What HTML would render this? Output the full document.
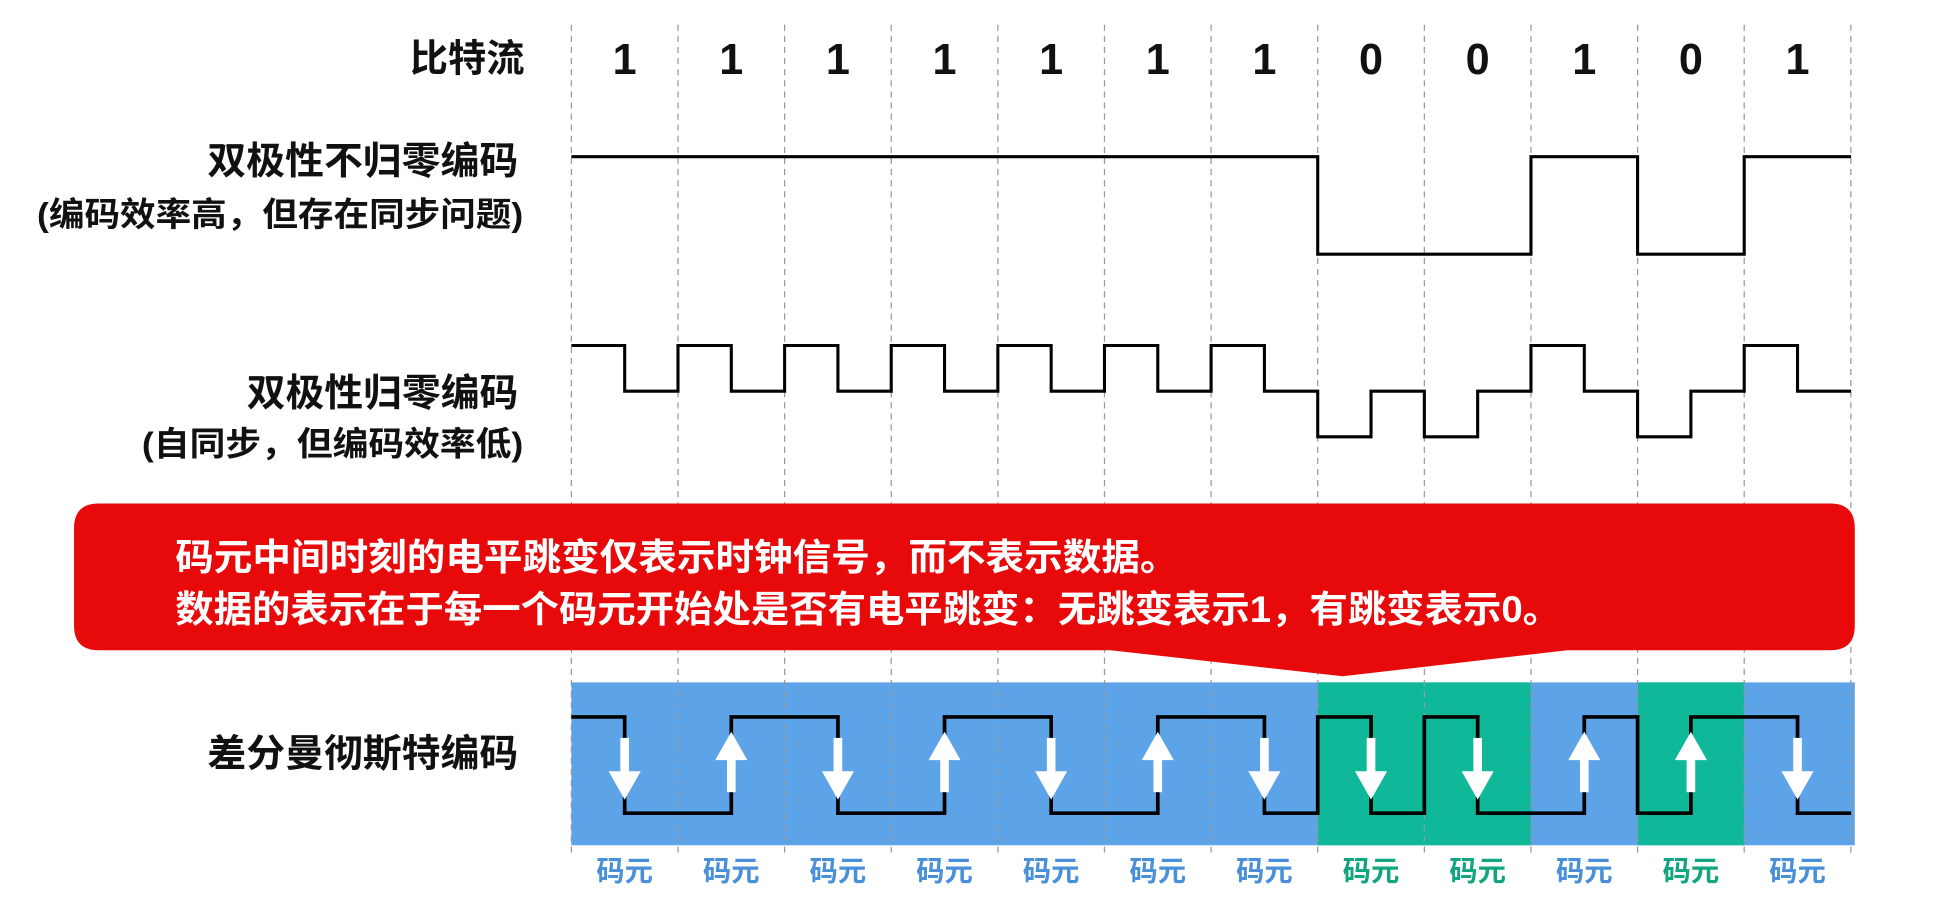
<!DOCTYPE html>
<html><head><meta charset="utf-8"><style>
html,body{margin:0;padding:0;background:#fff;}
svg{display:block}
text{font-family:"Liberation Sans","Noto Sans CJK SC",sans-serif;font-weight:bold}
</style></head><body>
<svg width="1935" height="904" viewBox="0 0 1568 732.6" preserveAspectRatio="none" xmlns="http://www.w3.org/2000/svg">
<rect width="1568" height="733" fill="#fff"/>
<rect x="463" y="553" width="1040" height="132" fill="#5ca3e8"/>
<rect x="1067.8" y="553" width="172.8" height="132" fill="#10b89a"/>
<rect x="1327" y="553" width="86.4" height="132" fill="#10b89a"/>
<g stroke="#999" stroke-width="1" stroke-dasharray="5,4">
<line x1="463" y1="20" x2="463" y2="692"/><line x1="549.4" y1="20" x2="549.4" y2="692"/>
<line x1="635.8" y1="20" x2="635.8" y2="692"/><line x1="722.2" y1="20" x2="722.2" y2="692"/>
<line x1="808.6" y1="20" x2="808.6" y2="692"/><line x1="895" y1="20" x2="895" y2="692"/>
<line x1="981.4" y1="20" x2="981.4" y2="692"/><line x1="1067.8" y1="20" x2="1067.8" y2="692"/>
<line x1="1154.2" y1="20" x2="1154.2" y2="692"/><line x1="1240.6" y1="20" x2="1240.6" y2="692"/>
<line x1="1327" y1="20" x2="1327" y2="692"/><line x1="1413.4" y1="20" x2="1413.4" y2="692"/>
<line x1="1499.8" y1="20" x2="1499.8" y2="692"/>
</g>
<text x="425" y="58" font-size="31" text-anchor="end" fill="#111">比特流</text>
<g font-size="35" text-anchor="middle" fill="#111">
<text x="506.2" y="60">1</text><text x="592.6" y="60">1</text><text x="679" y="60">1</text><text x="765.4" y="60">1</text>
<text x="851.8" y="60">1</text><text x="938.2" y="60">1</text><text x="1024.6" y="60">1</text><text x="1111" y="60">0</text>
<text x="1197.4" y="60">0</text><text x="1283.8" y="60">1</text><text x="1370.2" y="60">0</text><text x="1456.6" y="60">1</text>
</g>
<g fill="#111">
<text x="168" y="141" font-size="31" textLength="252" lengthAdjust="spacingAndGlyphs">双极性不归零编码</text>
<text x="30" y="183" font-size="27" textLength="394" lengthAdjust="spacingAndGlyphs">(编码效率高，但存在同步问题)</text>
<text x="200" y="329" font-size="31" textLength="220" lengthAdjust="spacingAndGlyphs">双极性归零编码</text>
<text x="115" y="369" font-size="27" textLength="309" lengthAdjust="spacingAndGlyphs">(自同步，但编码效率低)</text>
<text x="168" y="621" font-size="31" textLength="252" lengthAdjust="spacingAndGlyphs">差分曼彻斯特编码</text>
</g>
<g fill="none" stroke="#000" stroke-width="2.5">
<path d="M463,127 H1067.8 V206 H1240.6 V127 H1327 V206 H1413.4 V127 H1500"/>
<path d="M463,280 H506.2 V317 H549.4 V280 H592.6 V317 H635.8 V280 H679 V317 H722.2 V280 H765.4 V317 H808.6 V280 H851.8 V317 H895 V280 H938.2 V317 H981.4 V280 H1024.6 V317 H1067.8 V354 H1111 V317 H1154.2 V354 H1197.4 V317 H1240.6 V280 H1283.8 V317 H1327 V354 H1370.2 V317 H1413.4 V280 H1456.6 V317 H1500"/>
<path stroke-width="3" d="M463,581 H506.2 V659 H592.6 V581 H679 V659 H765.4 V581 H851.8 V659 H938.2 V581 H1024.6 V659 H1067.8 V581 H1111 V659 H1154.2 V581 H1197.4 V659 H1283.8 V581 H1327 V659 H1370.2 V581 H1456.6 V659 H1500"/>
</g>
<g fill="#fff">
<rect x="502.7" y="598" width="7" height="28"/><polygon points="493.2,625 519.2,625 506.2,648"/>
<rect x="675.5" y="598" width="7" height="28"/><polygon points="666,625 692,625 679,648"/>
<rect x="848.3" y="598" width="7" height="28"/><polygon points="838.8,625 864.8,625 851.8,648"/>
<rect x="1021.1" y="598" width="7" height="28"/><polygon points="1011.6,625 1037.6,625 1024.6,648"/>
<rect x="1107.5" y="598" width="7" height="28"/><polygon points="1098,625 1124,625 1111,648"/>
<rect x="1193.9" y="598" width="7" height="28"/><polygon points="1184.4,625 1210.4,625 1197.4,648"/>
<rect x="1453.1" y="598" width="7" height="28"/><polygon points="1443.6,625 1469.6,625 1456.6,648"/>
<rect x="589.1" y="614" width="7" height="28"/><polygon points="592.6,593 579.6,616 605.6,616"/>
<rect x="761.9" y="614" width="7" height="28"/><polygon points="765.4,593 752.4,616 778.4,616"/>
<rect x="934.7" y="614" width="7" height="28"/><polygon points="938.2,593 925.2,616 951.2,616"/>
<rect x="1280.3" y="614" width="7" height="28"/><polygon points="1283.8,593 1270.8,616 1296.8,616"/>
<rect x="1366.7" y="614" width="7" height="28"/><polygon points="1370.2,593 1357.2,616 1383.2,616"/>
</g>
<g font-size="23" text-anchor="middle" fill="#4a90d9">
<text x="506.2" y="714">码元</text><text x="592.6" y="714">码元</text><text x="679" y="714">码元</text><text x="765.4" y="714">码元</text>
<text x="851.8" y="714">码元</text><text x="938.2" y="714">码元</text><text x="1024.6" y="714">码元</text>
<text x="1111" y="714" fill="#13a57f">码元</text><text x="1197.4" y="714" fill="#13a57f">码元</text>
<text x="1283.8" y="714">码元</text><text x="1370.2" y="714" fill="#13a57f">码元</text><text x="1456.6" y="714">码元</text>
</g>
<path d="M80,408 H1483 Q1503,408 1503,428 V507 Q1503,527 1483,527 H1270 L1088,548 L900,527 H80 Q60,527 60,507 V428 Q60,408 80,408 Z" fill="#e8090b"/>
<g fill="#fff" font-size="30">
<text x="142" y="462" textLength="813" lengthAdjust="spacingAndGlyphs">码元中间时刻的电平跳变仅表示时钟信号，而不表示数据。</text>
<text x="142" y="504" textLength="1123" lengthAdjust="spacingAndGlyphs">数据的表示在于每一个码元开始处是否有电平跳变：无跳变表示1，有跳变表示0。</text>
</g>
</svg>
</body></html>
